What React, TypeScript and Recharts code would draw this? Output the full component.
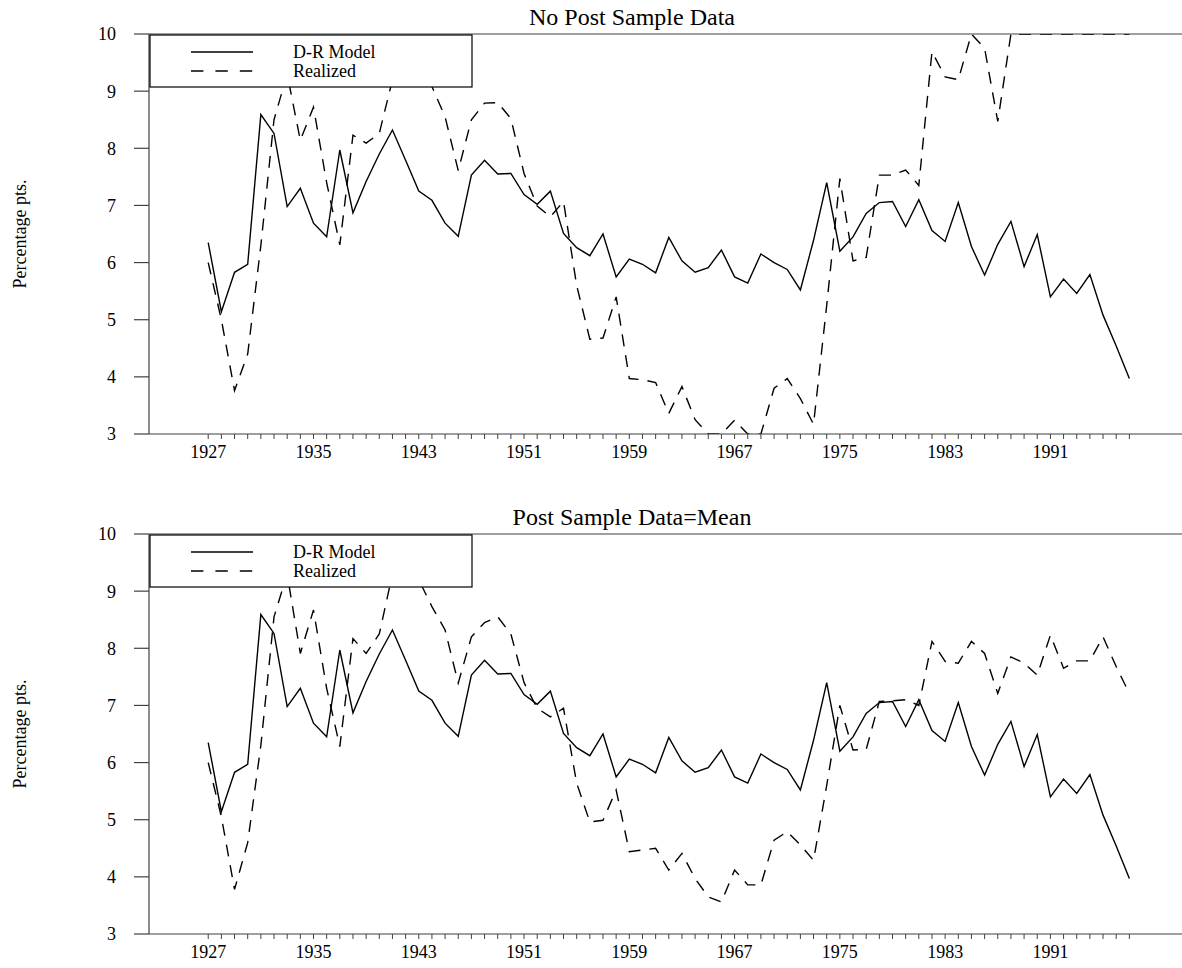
import React from 'react';
import { LineChart, Line, XAxis, YAxis, ReferenceLine } from 'recharts';

const years = [
  1927, 1928, 1929, 1930, 1931, 1932, 1933, 1934, 1935, 1936,
  1937, 1938, 1939, 1940, 1941, 1942, 1943, 1944, 1945, 1946,
  1947, 1948, 1949, 1950, 1951, 1952, 1953, 1954, 1955, 1956,
  1957, 1958, 1959, 1960, 1961, 1962, 1963, 1964, 1965, 1966,
  1967, 1968, 1969, 1970, 1971, 1972, 1973, 1974, 1975, 1976,
  1977, 1978, 1979, 1980, 1981, 1982, 1983, 1984, 1985, 1986,
  1987, 1988, 1989, 1990, 1991, 1992, 1993, 1994, 1995, 1996,
  1997,
];

const drModel = [
  6.35, 5.14, 5.83, 5.97, 8.59, 8.26, 6.98, 7.30, 6.69, 6.45,
  7.97, 6.87, 7.42, 7.90, 8.32, 7.79, 7.25, 7.09, 6.69, 6.46,
  7.53, 7.79, 7.55, 7.56, 7.19, 7.02, 7.25, 6.51, 6.26, 6.12,
  6.50, 5.75, 6.06, 5.97, 5.82, 6.44, 6.03, 5.83, 5.91, 6.22,
  5.75, 5.64, 6.15, 6.00, 5.88, 5.52, 6.39, 7.40, 6.20, 6.45,
  6.86, 7.05, 7.07, 6.63, 7.10, 6.56, 6.37, 7.05, 6.28, 5.78,
  6.32, 6.72, 5.93, 6.49, 5.40, 5.71, 5.46, 5.79, 5.08, 4.54,
  3.97,
];

const realizedNoPost = [
  6.0, 5.0, 3.76, 4.4, 6.3, 8.5, 9.3, 8.14, 8.72, 7.4,
  6.31, 8.23, 8.09, 8.26, 9.2, 9.5, 9.4, 9.08, 8.55, 7.61,
  8.5, 8.79, 8.8, 8.52, 7.56, 6.99, 6.8, 7.07, 5.6, 4.66,
  4.68, 5.4, 3.97, 3.95, 3.9, 3.36, 3.83, 3.25, 3.0, 3.0,
  3.24, 3.0, 3.0, 3.8, 3.97, 3.62, 3.17, 5.25, 7.47, 6.03,
  6.09, 7.53, 7.53, 7.62, 7.35, 9.69, 9.25, 9.2, 10.0, 9.75,
  8.47, 10.0, 10.0, 10.0, 10.0, 10.0, 10.0, 10.0, 10.0, 10.0,
  10.0,
];

const realizedMean = [
  6.0, 5.05, 3.78, 4.6, 6.3, 8.55, 9.3, 7.91, 8.67, 7.3,
  6.28, 8.17, 7.91, 8.25, 9.3, 9.4, 9.2, 8.73, 8.32, 7.39,
  8.2, 8.45, 8.55, 8.25, 7.4, 6.95, 6.8, 6.95, 5.64, 4.96,
  4.99, 5.52, 4.44, 4.47, 4.5, 4.12, 4.41, 3.97, 3.65, 3.56,
  4.12, 3.86, 3.86, 4.64, 4.79, 4.56, 4.29, 5.6, 7.0, 6.22,
  6.23, 7.07, 7.08, 7.1, 7.0, 8.12, 7.77, 7.74, 8.12, 7.91,
  7.21, 7.85, 7.74, 7.53, 8.23, 7.65, 7.78, 7.78, 8.2, 7.68,
  7.21,
];

const labelYears = [1927, 1935, 1943, 1951, 1959, 1967, 1975, 1983, 1991];
const yTicks = [3, 4, 5, 6, 7, 8, 9, 10];
const seriesNames = ['D-R Model', 'Realized'];
const panelTitles = ['No Post Sample Data', 'Post Sample Data=Mean'];
const yAxisTitle = 'Percentage pts.';

const FONT = '"Liberation Serif", "Times New Roman", serif';
const AXIS = '#404040';

const topData = years.map((yr, i) => ({ year: yr, model: drModel[i], realized: realizedNoPost[i] }));
const bottomData = years.map((yr, i) => ({ year: yr, model: drModel[i], realized: realizedMean[i] }));

const XTick = (props: any) => {
  const { x, y, payload } = props;
  const v = payload.value;
  const show = labelYears.includes(v);
  return (
    <g>
      <line x1={x} x2={x} y1={y} y2={y + 5} stroke={AXIS} strokeWidth={1} />
      {show && (
        <text x={x} y={y + 24} textAnchor="middle" fontFamily={FONT} fontSize={18} fill="#000">
          {v}
        </text>
      )}
    </g>
  );
};

const Panel = ({ data }: { data: any[] }) => (
  <LineChart width={1182} height={468} data={data} margin={{ top: 34, right: 0, bottom: 0, left: 0 }}>
    <XAxis
      dataKey="year"
      type="number"
      domain={[1922.5, 2001]}
      ticks={years}
      interval={0}
      tickSize={0}
      tickMargin={0}
      tickLine={false}
      tick={<XTick />}
      height={34}
      axisLine={{ stroke: AXIS, strokeWidth: 1.2 }}
      allowDataOverflow
    />
    <YAxis
      type="number"
      domain={[3, 10]}
      ticks={yTicks}
      interval={0}
      width={149}
      tickSize={15}
      tickMargin={18}
      tickLine={{ stroke: AXIS, strokeWidth: 1.2 }}
      axisLine={{ stroke: AXIS, strokeWidth: 1.2 }}
      tick={{ fontFamily: FONT, fontSize: 18, fill: '#000' }}
      allowDataOverflow
    />
    <ReferenceLine y={10} stroke={AXIS} strokeWidth={1.2} />
    <Line
      type="linear"
      dataKey="model"
      stroke="#000"
      strokeWidth={1.4}
      dot={false}
      isAnimationActive={false}
    />
    <Line
      type="linear"
      dataKey="realized"
      stroke="#000"
      strokeWidth={1.4}
      strokeDasharray="12 9"
      dot={false}
      isAnimationActive={false}
    />
  </LineChart>
);

const Overlay = ({ offset, title }: { offset: number; title: string }) => (
  <g transform={`translate(0, ${offset})`}>
    <text x={632} y={25} textAnchor="middle" fontFamily={FONT} fontSize={24} fill="#000">
      {title}
    </text>
    <text
      x={0}
      y={0}
      transform="translate(26, 234) rotate(-90)"
      textAnchor="middle"
      fontFamily={FONT}
      fontSize={18}
      fill="#000"
    >
      {yAxisTitle}
    </text>
    <rect x={150} y={35} width={322} height={52} fill="#fff" stroke="#000" strokeWidth={1.2} />
    <line x1={191} x2={253} y1={52} y2={52} stroke="#000" strokeWidth={1.4} />
    <line x1={191} x2={253} y1={71} y2={71} stroke="#000" strokeWidth={1.4} strokeDasharray="12.4 12" />
    <text x={293} y={58} fontFamily={FONT} fontSize={18} fill="#000">
      {seriesNames[0]}
    </text>
    <text x={293} y={77} fontFamily={FONT} fontSize={18} fill="#000">
      {seriesNames[1]}
    </text>
  </g>
);

export default function App() {
  return (
    <div style={{ position: 'absolute', left: 0, top: 0, width: 1182, height: 968, background: '#fff', overflow: 'hidden' }}>
      <div style={{ position: 'absolute', left: 0, top: 0 }}>
        <Panel data={topData} />
      </div>
      <div style={{ position: 'absolute', left: 0, top: 500 }}>
        <Panel data={bottomData} />
      </div>
      <svg
        width={1182}
        height={968}
        style={{ position: 'absolute', left: 0, top: 0, pointerEvents: 'none' }}
      >
        <Overlay offset={0} title={panelTitles[0]} />
        <Overlay offset={500} title={panelTitles[1]} />
      </svg>
    </div>
  );
}
